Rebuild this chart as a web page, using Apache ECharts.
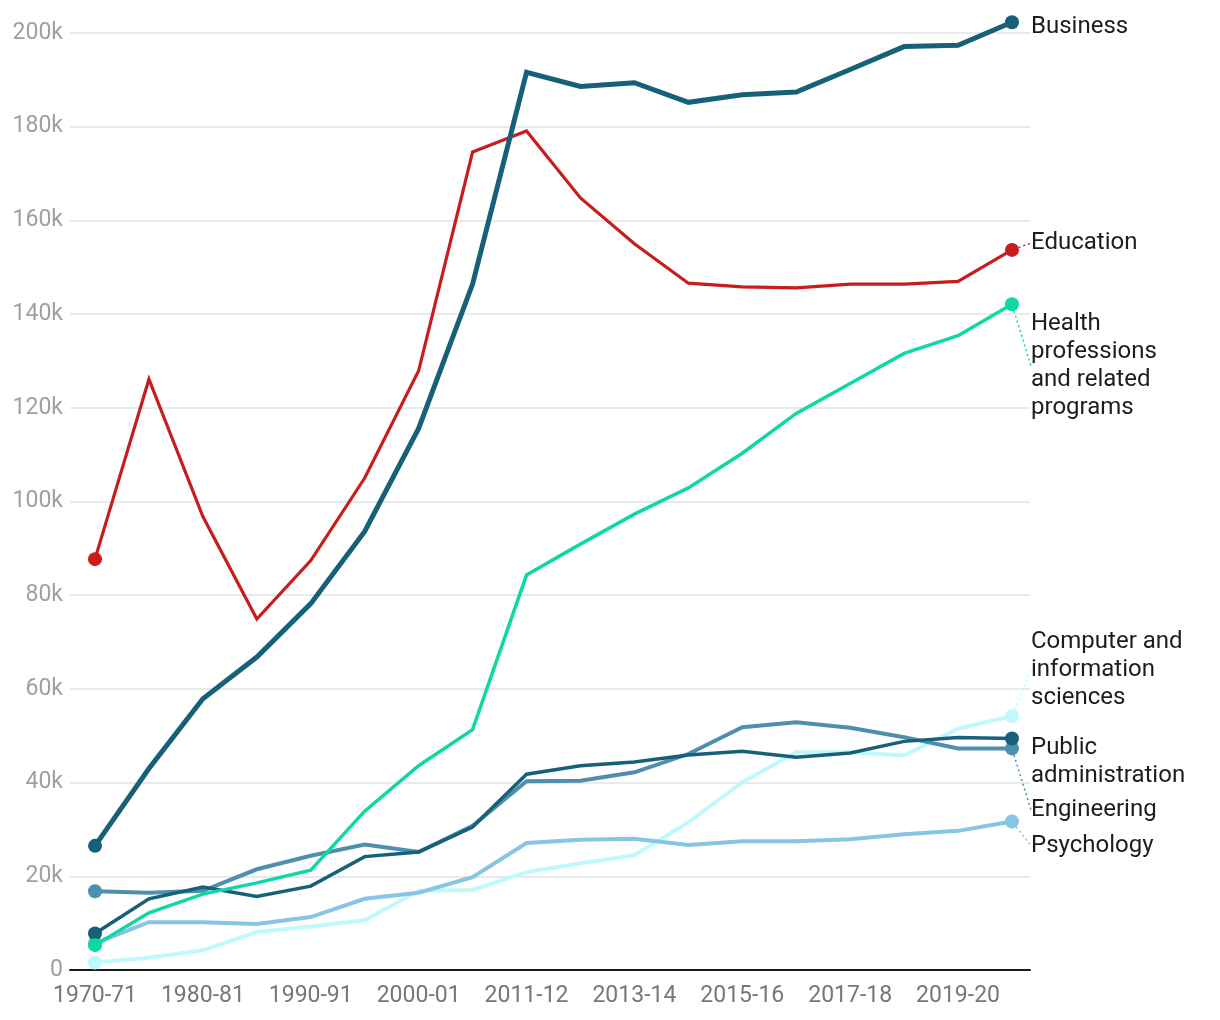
<!DOCTYPE html>
<html>
<head>
<meta charset="utf-8">
<script src="https://cdn.jsdelivr.net/npm/echarts@6/dist/echarts.min.js"></script>
<style>
html,body{margin:0;padding:0;background:#fff;}
#chart{width:1220px;height:1020px;}
</style>
</head>
<body>
<div id="chart"></div>
<script>
const categories = ['1970-71','1975-76','1980-81','1985-86','1990-91','1995-96','2000-01','2005-06','2011-12','2012-13','2013-14','2014-15','2015-16','2016-17','2017-18','2018-19','2019-20','2020-21'];
const yTicks = [0, 20000, 40000, 60000, 80000, 100000, 120000, 140000, 160000, 180000, 200000];

const business    = [26500, 43000, 57900, 66800, 78200, 93600, 115600, 146400, 191600, 188600, 189400, 185200, 186800, 187400, 192200, 197100, 197400, 202300];
const education   = [87700, 126100, 96800, 74900, 87400, 105000, 127900, 174600, 179100, 164800, 155000, 146600, 145800, 145600, 146400, 146400, 147000, 153700];
const health      = [5300, 12200, 16200, 18600, 21300, 33900, 43600, 51300, 84300, 90900, 97300, 102900, 110300, 118800, 125200, 131600, 135400, 142100];
const computer    = [1600, 2600, 4200, 8100, 9300, 10600, 16900, 17100, 20900, 22800, 24500, 31500, 40100, 46500, 46500, 45800, 51500, 54200];
const publicAdmin = [7800, 15200, 17700, 15700, 17900, 24200, 25200, 30500, 41800, 43600, 44400, 45900, 46700, 45400, 46300, 48800, 49600, 49400];
const engineering = [16800, 16500, 16900, 21500, 24400, 26800, 25200, 30800, 40300, 40400, 42200, 46100, 51800, 52900, 51700, 49700, 47300, 47300];
const psychology  = [5700, 10200, 10200, 9800, 11300, 15200, 16500, 19800, 27100, 27800, 28000, 26700, 27500, 27500, 27900, 29000, 29700, 31700];

const seriesNames = {
  business: 'Business',
  education: 'Education',
  health: 'Health\nprofessions\nand related\nprograms',
  computer: 'Computer and\ninformation\nsciences',
  publicAdmin: 'Public\nadministration',
  engineering: 'Engineering',
  psychology: 'Psychology'
};

const FONT = 'Roboto, "Noto Sans", sans-serif';
const chart = echarts.init(document.getElementById('chart'), null, {renderer: 'canvas'});

// label anchor (center y in px) for end labels
const labelY = {business: 27, education: 243, health: 366, computer: 670, publicAdmin: 762, engineering: 810, psychology: 846};

function makeSeries(key, values, color, width, z, leader) {
  const last = values.length - 1;
  const data = values.map((v, i) => {
    const item = {value: [i, v]};
    if (i === 0 || i === last) {
      item.symbol = 'circle';
      item.symbolSize = 14;
    } else {
      item.symbol = 'none';
    }
    if (i === last) {
      item.label = {show: true, position: 'right'};
    }
    return item;
  });
  return {
    type: 'line',
    name: seriesNames[key],
    data: data,
    z: z,
    clip: false,
    showAllSymbol: true,
    lineStyle: {color: color, width: width, join: 'miter'},
    itemStyle: {color: color},
    emphasis: {disabled: true},
    label: {
      formatter: seriesNames[key],
      color: '#1d1d1d',
      fontFamily: FONT,
      fontSize: 24,
      lineHeight: 28
    },
    labelLine: {
      show: leader,
      lineStyle: {color: color, width: 1.5, type: [2, 3]}
    },
    labelLayout: function () {
      return {x: 1031, y: labelY[key], align: 'left', verticalAlign: 'middle'};
    }
  };
}

const option = {
  animation: false,
  backgroundColor: '#ffffff',
  grid: {left: 70, right: 190, top: 33, bottom: 50, containLabel: false},
  xAxis: {
    type: 'value',
    min: -0.4635,
    max: 17.334,
    splitLine: {show: false},
    axisLine: {show: true, lineStyle: {color: '#1a1a1a', width: 2}},
    axisTick: {show: false},
    axisLabel: {
      customValues: categories.map((c, i) => i).filter(i => i % 2 === 0 && i < 17),
      formatter: v => categories[Math.round(v)],
      color: '#777777',
      fontFamily: FONT,
      fontSize: 23,
      margin: 15
    }
  },
  yAxis: {
    type: 'value',
    min: 0,
    max: 200000,
    interval: 20000,
    axisLine: {show: false},
    axisTick: {show: false},
    splitLine: {lineStyle: {color: '#e3e3e3', width: 1.5}},
    axisLabel: {
      formatter: v => v === 0 ? '0' : (v / 1000) + 'k',
      color: '#a0a0a0',
      fontFamily: FONT,
      fontSize: 23,
      margin: 7
    }
  },
  series: [
    makeSeries('computer', computer, '#bff9fc', 4, 2, true),
    makeSeries('psychology', psychology, '#87c5e4', 4, 3, true),
    makeSeries('engineering', engineering, '#4d8fad', 4, 4, true),
    makeSeries('publicAdmin', publicAdmin, '#16607a', 3.5, 5, false),
    makeSeries('health', health, '#0fd8a5', 3.5, 6, true),
    makeSeries('education', education, '#c71e1d', 3.2, 7, true),
    makeSeries('business', business, '#16607a', 5, 8, false)
  ]
};
chart.setOption(option);
</script>
</body>
</html>
